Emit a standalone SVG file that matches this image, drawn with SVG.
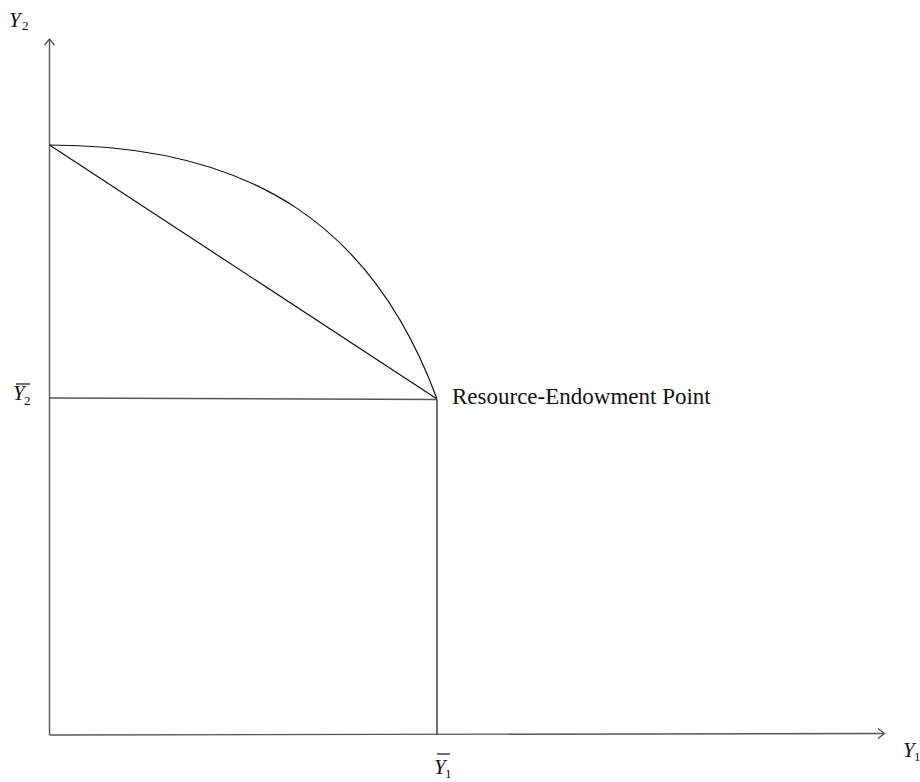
<svg xmlns="http://www.w3.org/2000/svg" width="920" height="782" viewBox="0 0 920 782">
<style>
.ax{stroke:#555;stroke-width:1.4;fill:none}
.ln{stroke:#111;stroke-width:1.2;fill:none}
.t{font-family:"Liberation Serif","Times New Roman",serif;fill:#111}
.v{font-style:italic;font-size:21px}
.s{font-size:13px}
.bar{stroke:#111;stroke-width:1.2}
</style>
<rect width="920" height="782" fill="#fff"/>
<g id="connectors">
<path class="ax" d="M49.5,735 V39"/>
<path class="ax" d="M44.5,45 L49.5,39 L54.5,45"/>
<path class="ax" d="M49.5,735 L884,733.5"/>
<path class="ax" d="M878,728.5 L884.5,733.5 L878,738.5"/>
<path class="ln" d="M49.5,145 C254,145 374,228 437,399"/>
<path class="ln" d="M49.5,145 L437,399"/>
<path class="ax" d="M49.5,398 L437,399.5"/>
<path class="ln" d="M437,399.5 V734"/>
</g>
<g id="label-y2">
<text class="t v" x="9" y="27">Y</text><text class="t s" x="22" y="30">2</text>
</g>
<g id="label-y2bar">
<line class="bar" x1="16" y1="384" x2="30" y2="384"/>
<text class="t v" x="13" y="400">Y</text><text class="t s" x="24" y="405">2</text>
</g>
<g id="label-y1bar">
<line class="bar" x1="437" y1="754" x2="450" y2="754"/>
<text class="t v" x="434" y="774">Y</text><text class="t s" x="445" y="778">1</text>
</g>
<g id="label-y1">
<text class="t v" x="903" y="757">Y</text><text class="t s" x="914" y="761">1</text>
</g>
<g id="resource-endowment-point">
<text class="t" x="452" y="404" font-size="23">Resource-Endowment Point</text>
</g>
</svg>
